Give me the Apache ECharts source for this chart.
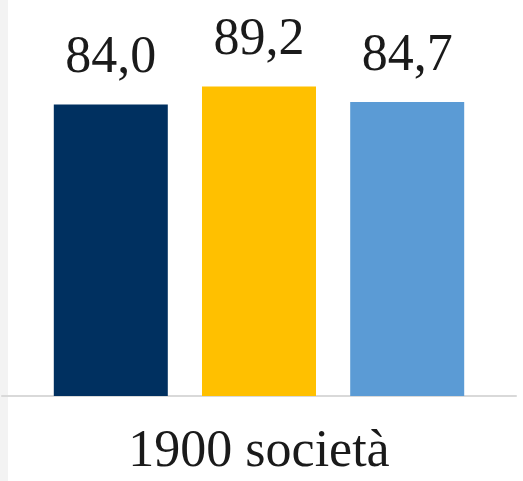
<!DOCTYPE html>
<html><head><meta charset="utf-8">
<script src="https://cdn.jsdelivr.net/npm/echarts@6/dist/echarts.min.js"></script>
<style>html,body{margin:0;padding:0;background:#fff}#c{width:523px;height:481px}</style>
</head><body><div id="c"></div>
<script>
const categories = ['1900 società'];
const seriesNames = ['A', 'B', 'C'];
const seriesValues = [[84.0], [89.2], [84.7]];
const seriesColors = ['#003060', '#FFC000', '#5B9BD5'];

const chart = echarts.init(document.getElementById('c'));
const fmt = p => p.value.toFixed(1).replace('.', ',');
chart.setOption({
  animation: false,
  grid: {left: 2, right: 7, top: 49, bottom: 85},
  graphic: [{type: 'rect', shape: {x: 0, y: 0, width: 8, height: 481}, style: {fill: '#f3f3f3'}, z: -1}],
  xAxis: {
    type: 'category', data: categories,
    axisLine: {lineStyle: {color: '#d9d9d9', width: 2}},
    axisTick: {show: false},
    axisLabel: {fontFamily: 'Liberation Serif', fontSize: 52, color: '#1a1a1a', margin: 30}
  },
  yAxis: {type: 'value', min: 0, max: 100, show: false, splitLine: {show: false}},
  series: seriesNames.map((n, i) => ({
    name: n, type: 'bar', data: seriesValues[i], barWidth: 114, barGap: '30%',
    itemStyle: {color: seriesColors[i]},
    label: {show: true, position: 'top', distance: 20, formatter: fmt,
      fontFamily: 'Liberation Serif', fontSize: 52, color: '#1a1a1a'}
  }))
});
</script></body></html>
